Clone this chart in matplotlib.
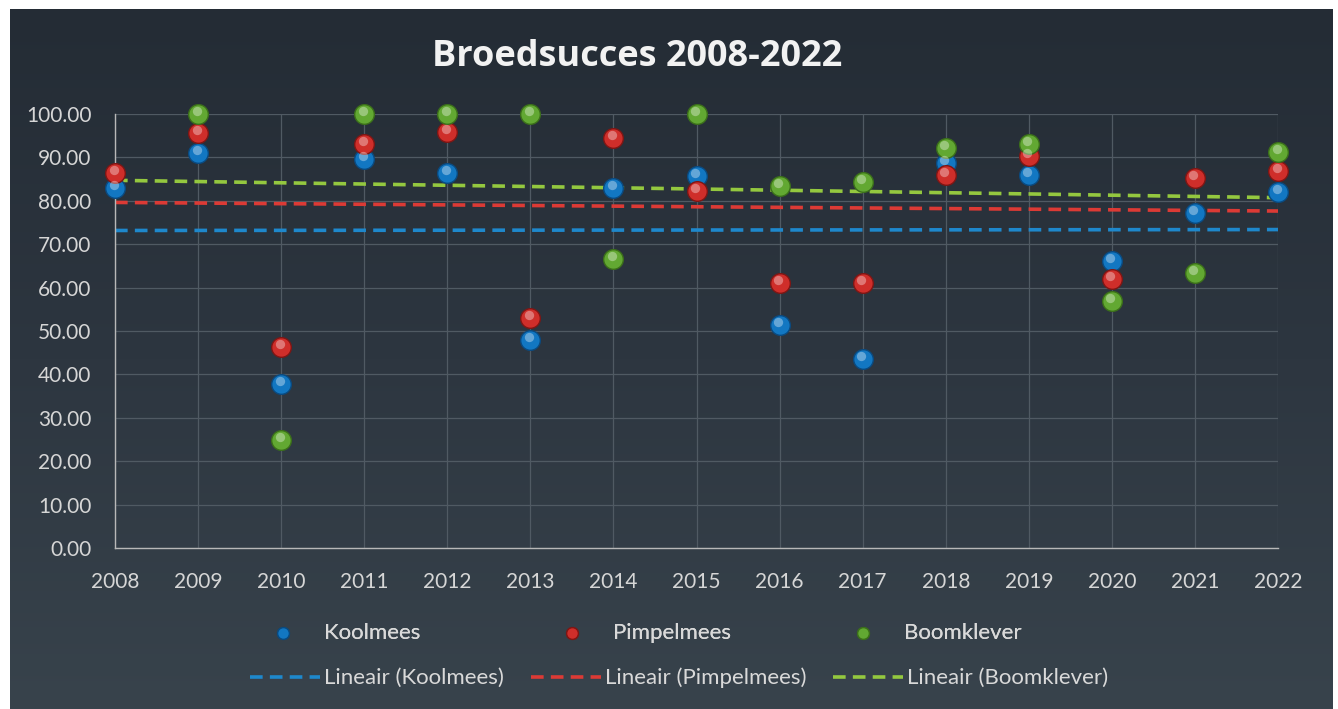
import numpy as np
import matplotlib
matplotlib.use("Agg")
import matplotlib.pyplot as plt
from matplotlib.colors import LinearSegmentedColormap
from matplotlib.transforms import offset_copy

plt.rcParams['font.family'] = ['Lato', 'DejaVu Sans']

# Broedsucces (%) per jaar
years = np.arange(2008, 2023)
koolmees = [83.0, 91.0, 37.8, 89.6, 86.3, 47.9, 82.9, 85.6, 51.4, 43.5, 88.8, 85.9, 66.1, 77.1, 82.1]
pimpelmees = [86.5, 95.7, 46.2, 93.1, 95.9, 52.9, 94.5, 82.3, 61.0, 61.1, 85.9, 90.4, 61.9, 85.2, 86.9]
boomklever = [np.nan, 100.0, 25.0, 100.0, 100.0, 100.0, 66.5, 100.0, 83.4, 84.4, 92.1, 93.2, 56.9, 63.4, 91.2]

series_names = ['Koolmees', 'Pimpelmees', 'Boomklever']
series_data = [koolmees, pimpelmees, boomklever]
dot_colors = ['#1277c2', '#cf2e2a', '#62a832']
dot_edges = ['#0a4a80', '#7e1614', '#3b6f1a']
trend_colors = ['#1e88cc', '#dc3a35', '#94c83f']

fig = plt.figure(figsize=(13.38, 7.09), dpi=100)
fig.patch.set_facecolor('white')

# dark chart background with a soft vertical gradient
bg = fig.add_axes([10 / 1338, 0, 1323 / 1338, 700 / 709], zorder=-5)
grad = np.linspace(0, 1, 256).reshape(-1, 1)
cmap = LinearSegmentedColormap.from_list('bg', ['#242c35', '#2d3640', '#38434c'])
bg.imshow(grad, aspect='auto', cmap=cmap, extent=[0, 1, 0, 1], origin='upper')
bg.set_axis_off()

ax = fig.add_axes([115 / 1338, 161 / 709, 1163 / 1338, 434 / 709])
ax.set_facecolor('none')

hl_trans = offset_copy(ax.transData, fig=fig, x=-1.5, y=3.0, units='dots')
handles_dots = []
handles_lines = []
for name, vals, c, ec, tc in zip(series_names, series_data, dot_colors, dot_edges, trend_colors):
    v = np.array(vals, dtype=float)
    ok = ~np.isnan(v)
    # linear trend line
    k, b = np.polyfit(years[ok], v[ok], 1)
    ln, = ax.plot(years, k * years + b, color=tc, lw=2.6, dashes=(3.5, 2.0), zorder=2,
                  label='Lineair (%s)' % name)
    handles_lines.append(ln)
    sc = ax.scatter(years, v, s=200, color=c, edgecolors=ec, linewidths=1.0, zorder=3,
                    label=name, clip_on=False)
    ax.scatter(years, v, s=45, color='white', alpha=0.35, linewidths=0, zorder=4,
               transform=hl_trans, clip_on=False)
    handles_dots.append(sc)

ax.set_xlim(2008, 2022)
ax.set_ylim(0, 100)
ax.set_xticks(years)
ax.set_yticks(np.arange(0, 101, 10))
ax.yaxis.set_major_formatter(matplotlib.ticker.FormatStrFormatter('%.2f'))
ax.grid(True, color='#505a63', lw=0.9)
ax.set_axisbelow(True)
for s in ['top', 'right']:
    ax.spines[s].set_visible(False)
for s in ['left', 'bottom']:
    ax.spines[s].set_color('#b8b8b8')
    ax.spines[s].set_linewidth(1.0)
ax.tick_params(length=0, colors='#d6d6d6', labelsize=15)
ax.tick_params(axis='y', pad=17)
ax.tick_params(axis='x', pad=17)

fig.text(637 / 1338, 1 - 57 / 709, 'Broedsucces 2008-2022', color='#f2f2f2', fontsize=26,
         fontweight='bold', family='Open Sans', ha='center', va='center')

# first legend row: one legend per series so the spacing can follow the original
row1_x = [272, 561, 852]
for h, name, x in zip(handles_dots, series_names, row1_x):
    lg = fig.legend(handles=[h], labels=[name], loc='center left',
                    bbox_to_anchor=(x / 1338, 1 - 633 / 709), frameon=False,
                    fontsize=16, labelcolor='#d9d9d9', handlelength=1.0, handletextpad=1.35,
                    borderpad=0, borderaxespad=0, scatterpoints=1, markerscale=0.6)
    fig.add_artist(lg)

fig.legend(handles=handles_lines, labels=[h.get_label() for h in handles_lines],
           loc='center left', bbox_to_anchor=(250 / 1338, 1 - 678 / 709), ncol=3,
           frameon=False, fontsize=16, labelcolor='#d9d9d9', columnspacing=1.2,
           handletextpad=0.18, handlelength=3.15, borderpad=0, borderaxespad=0)

fig.savefig('out.png', dpi=100)
